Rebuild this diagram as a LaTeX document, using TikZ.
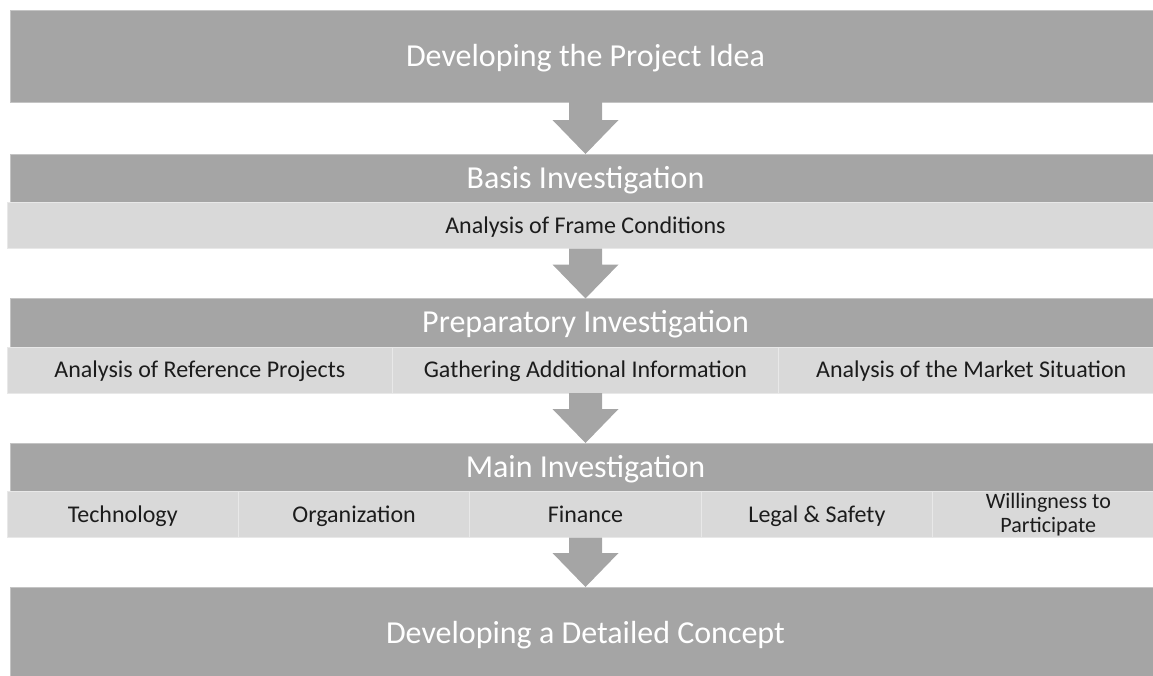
\documentclass[tikz,border=0pt]{standalone}
\usepackage{fontspec}
\setmainfont{Carlito}
\usepackage{xcolor}
\usepackage{tikz}
\usetikzlibrary{positioning}
\definecolor{bargray}{HTML}{A5A5A5}
\definecolor{rowgray}{HTML}{D9D9D9}
\definecolor{edgegray}{HTML}{C4C4C4}
\definecolor{seamgray}{HTML}{E8E8E8}
\definecolor{inkgray}{HTML}{1C1C1C}

\begin{document}
\begin{tikzpicture}[x=1pt,y=1pt,
bar/.style={draw=edgegray,line width=.8pt,fill=bargray,text=white,minimum width=1151pt,minimum height=48.5pt,inner sep=0pt,outer sep=0pt,text height=20.2pt,text depth=0pt,font=\fontsize{32}{38}\selectfont},
bigbar/.style={bar,minimum height=92pt},
cell/.style={draw=seamgray,line width=.8pt,fill=rowgray,text=inkgray,minimum height=46pt,inner sep=0pt,outer sep=0pt,text height=15.2pt,text depth=0pt,font=\fontsize{24}{29}\selectfont},
arr/.style={fill=bargray,to path={([xshift=-16.5pt]\tikztostart.south)--([xshift=-16.5pt,yshift=34pt]\tikztotarget.north)--([xshift=-33pt,yshift=34pt]\tikztotarget.north)--(\tikztotarget.north)--([xshift=33pt,yshift=34pt]\tikztotarget.north)--([xshift=16.5pt,yshift=34pt]\tikztotarget.north)--([xshift=16.5pt]\tikztostart.south)--cycle}}]
\useasboundingbox (0,0) rectangle (1153,-675);
\node[bigbar] (idea) at (585.5,-56) {Developing the Project Idea};
\node[bar,below=52pt of idea] (basis) {Basis Investigation};
\node[cell,minimum width=1157pt,below=0pt of basis] (frame) {Analysis of Frame Conditions};
\node[bar,below=50pt of frame] (prep) {Preparatory Investigation};
\node[cell,minimum width=385.7pt,below=0pt of prep] (gather) {Gathering Additional Information};
\node[cell,minimum width=385.7pt,left=0pt of gather] (refproj) {Analysis of Reference Projects};
\node[cell,minimum width=385.7pt,right=0pt of gather] (market) {Analysis of the Market Situation};
\node[bar,below=50pt of gather] (main) {Main Investigation};
\node[cell,minimum width=231.4pt,below=0pt of main] (finance) {Finance};
\node[cell,minimum width=231.4pt,left=0pt of finance] (orga) {Organization};
\node[cell,minimum width=231.4pt,left=0pt of orga] (tech) {Technology};
\node[cell,minimum width=231.4pt,right=0pt of finance] (legal) {Legal \& Safety};
\node[cell,minimum width=231.4pt,right=0pt of legal,text height=,text depth=,align=center,font=\fontsize{22}{24}\selectfont] (willing) {Willingness to\\Participate};
\node[bigbar,below=49.5pt of finance] (concept) {Developing a Detailed Concept};
\path[arr] (idea) to (basis);
\path[arr] (frame) to (prep);
\path[arr] (gather) to (main);
\path[arr] (finance) to (concept);
\end{tikzpicture}
\end{document}
